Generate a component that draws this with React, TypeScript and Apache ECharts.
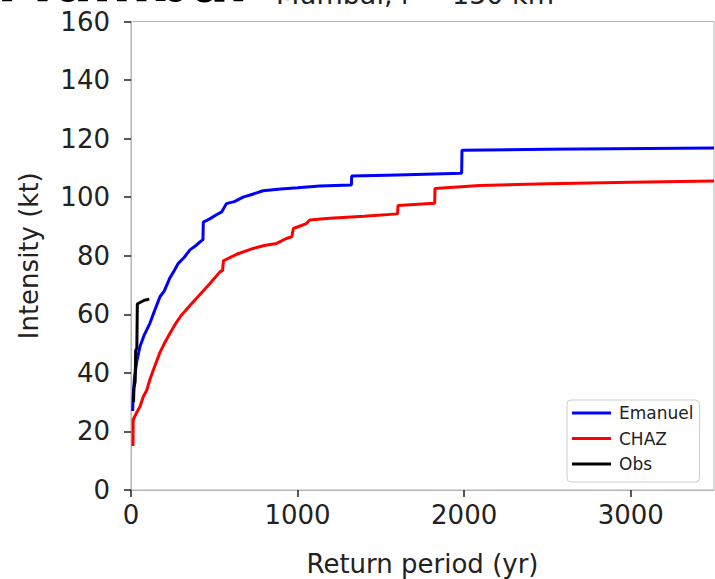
import React, { useEffect, useRef } from "react";
import * as echarts from "echarts";

const FONT = "DejaVu Sans";

const xTicks = [0, 1000, 2000, 3000];
const yMin = 0;
const yMax = 160;
const yStep = 20;
const xMax = 3500;

// [return period (yr), intensity (kt)]
const emanuel: [number, number][] = [
  [10, 27], [12, 31], [20, 38], [35, 44], [54, 49], [80, 53], [114, 57],
  [140, 61], [174, 66], [200, 68], [234, 72.5], [260, 75], [284, 77.4],
  [320, 79.5], [354, 82], [390, 83.5], [414, 84.7], [432, 85.5], [434, 91.5],
  [470, 92.5], [513, 94], [545, 95], [573, 97.8], [620, 98.5], [673, 100],
  [730, 101], [793, 102.2], [900, 102.8], [1000, 103.2], [1133, 103.8],
  [1323, 104.2], [1325, 107.2], [1600, 107.6], [1985, 108.2], [1987, 116],
  [2500, 116.4], [3500, 116.8],
];

const chaz: [number, number][] = [
  [12, 15], [13, 24], [30, 26], [54, 28.5], [75, 32], [94, 34], [115, 38],
  [134, 41], [174, 47], [200, 50], [234, 53.5], [270, 57], [300, 59.5],
  [354, 63], [414, 66.8], [474, 70.5], [534, 74.5], [550, 75], [555, 78.3],
  [634, 80.5], [734, 82.5], [800, 83.5], [874, 84.2], [933, 85.9], [965, 86.5],
  [975, 89.3], [1053, 91], [1073, 92.2], [1193, 92.8], [1400, 93.5],
  [1600, 94.3], [1603, 97.2], [1823, 97.9], [1825, 103], [2092, 104],
  [2500, 104.6], [3000, 105.1], [3500, 105.5],
];

const obs: [number, number][] = [
  [15, 30], [18, 35], [25, 37], [28, 47.5], [35, 48.5], [38, 63.5],
  [60, 64.2], [80, 64.8], [110, 65.2],
];

const seriesNames = ["Emanuel", "CHAZ", "Obs"];
const seriesColors = ["#0000ff", "#ff0000", "#000000"];

export default function App() {
  const ref = useRef<HTMLDivElement>(null);
  useEffect(() => {
    if (!ref.current) return;
    const chart = echarts.init(ref.current, null, { renderer: "svg" });
    const datasets = [emanuel, chaz, obs];
    chart.setOption({
      animation: false,
      textStyle: { fontFamily: FONT },
      grid: {
        left: 131,
        right: 1,
        top: 21.5,
        bottom: 89,
        containLabel: false,
        outerBoundsMode: "none",
        show: true,
        borderColor: "#b5b5b5",
        borderWidth: 1,
      },
      graphic: [
        {
          type: "text",
          x: -3,
          y: -19,
          style: {
            text: "Mumbai",
            font: `bold 56px '${FONT}'`,
            fill: "#000",
            verticalAlign: "middle",
          },
        },
        {
          type: "text",
          x: 276,
          y: -6,
          style: {
            text: "Mumbai, r = 150 km",
            font: `27px '${FONT}'`,
            fill: "#222",
            verticalAlign: "middle",
          },
        },
      ],
      legend: {
        orient: "vertical",
        left: 567,
        top: 400,
        padding: [4, 6, 9, 5],
        itemGap: 7.5,
        itemWidth: 39,
        itemHeight: 3,
        icon: "rect",
        borderColor: "#cccccc",
        borderWidth: 1,
        borderRadius: 4,
        backgroundColor: "#fff",
        data: seriesNames,
        textStyle: {
          fontFamily: FONT,
          fontSize: 17,
          lineHeight: 18,
          color: "#222",
          padding: [0, 0, 0, 3],
        },
      },
      xAxis: {
        type: "value",
        min: 0,
        max: xMax,
        name: "Return period (yr)",
        nameLocation: "middle",
        nameGap: 61,
        nameTextStyle: { fontFamily: FONT, fontSize: 26, color: "#222" },
        splitLine: { show: false },
        axisLine: { lineStyle: { color: "#b5b5b5", width: 1 } },
        axisTick: {
          length: 7,
          customValues: xTicks,
          lineStyle: { color: "#222", width: 1.5 },
        },
        axisLabel: {
          customValues: xTicks,
          formatter: (v: number) => String(v),
          fontFamily: FONT,
          fontSize: 26,
          color: "#222",
          margin: 12,
        },
      },
      yAxis: {
        type: "value",
        min: yMin,
        max: yMax,
        interval: yStep,
        name: "Intensity (kt)",
        nameLocation: "middle",
        nameGap: 89,
        nameTextStyle: { fontFamily: FONT, fontSize: 26, color: "#222" },
        splitLine: { show: false },
        axisLine: { show: true, lineStyle: { color: "#b5b5b5", width: 1 } },
        axisTick: { show: true, length: 7, lineStyle: { color: "#222", width: 1.5 } },
        axisLabel: {
          formatter: (v: number) => String(v),
          fontFamily: FONT,
          fontSize: 26,
          color: "#222",
          margin: 21,
        },
      },
      series: datasets.map((d, i) => ({
        name: seriesNames[i],
        type: "line",
        data: d,
        showSymbol: false,
        symbol: "none",
        lineStyle: { color: seriesColors[i], width: 3 },
        itemStyle: { color: seriesColors[i] },
        z: 2 + i,
      })),
    });
    return () => chart.dispose();
  }, []);
  return (
    <div
      ref={ref}
      style={{ position: "absolute", left: 0, top: 0, width: 715, height: 579, background: "#fff" }}
    />
  );
}
